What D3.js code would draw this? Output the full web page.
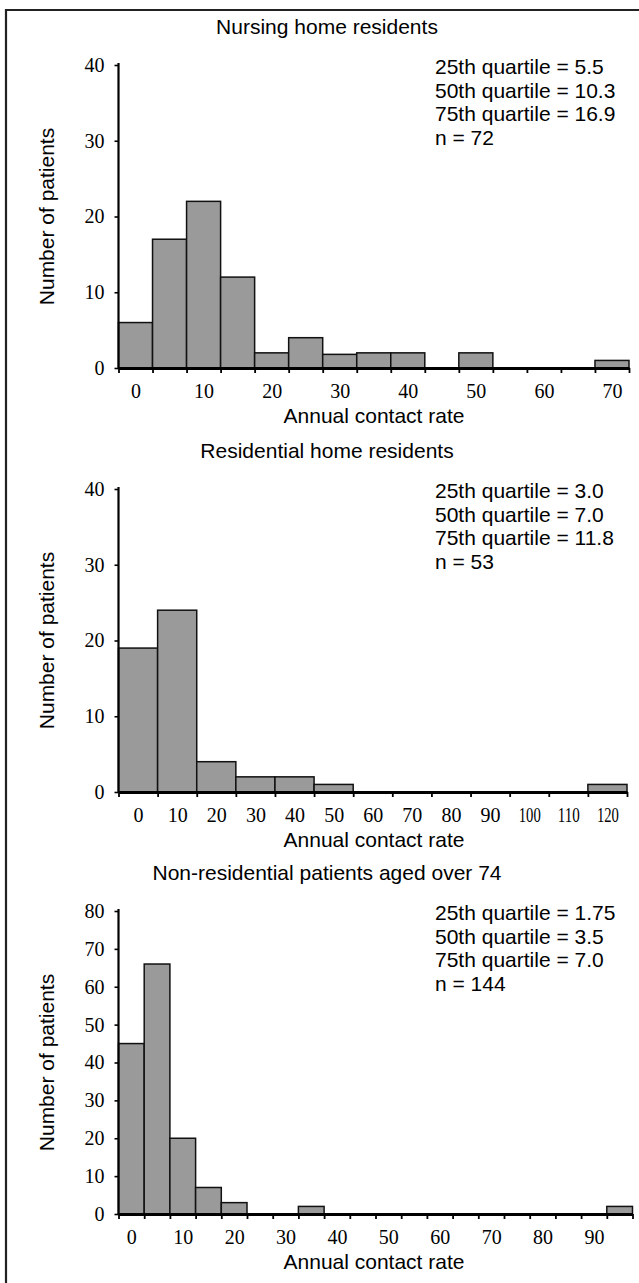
<!DOCTYPE html>
<html><head><meta charset="utf-8">
<script src="https://cdn.jsdelivr.net/npm/d3@7"></script>
<style>body{margin:0;background:#fff}</style>
</head><body>
<svg id="chart" width="639" height="1283"></svg>
<script>
// ---------- data ----------
const panelTitles = ["Nursing home residents", "Residential home residents", "Non-residential patients aged over 74"];
const xAxisTitle = "Annual contact rate";
const yAxisTitle = "Number of patients";

// counts per bin (bins centred on 0, binWidth, 2*binWidth, ...)
const nursingCounts = [6, 17, 22, 12, 2, 4, 1.8, 2, 2, 0, 2, 0, 0, 0, 1];
const residentialCounts = [19, 24, 4, 2, 2, 1, 0, 0, 0, 0, 0, 0, 1];
const nonResidentialCounts = [45, 66, 20, 7, 3, 0, 0, 2, 0, 0, 0, 0, 0, 0, 0, 0, 0, 0, 0, 2];
const binWidths = [5, 10, 5];

const nursingXTicks = [0, 10, 20, 30, 40, 50, 60, 70];
const residentialXTicks = [0, 10, 20, 30, 40, 50, 60, 70, 80, 90, 100, 110, 120];
const nonResidentialXTicks = [0, 10, 20, 30, 40, 50, 60, 70, 80, 90];
const nursingYTicks = [0, 10, 20, 30, 40];
const residentialYTicks = [0, 10, 20, 30, 40];
const nonResidentialYTicks = [0, 10, 20, 30, 40, 50, 60, 70, 80];

const nursingStats = ["25th quartile = 5.5", "50th quartile = 10.3", "75th quartile = 16.9", "n = 72"];
const residentialStats = ["25th quartile = 3.0", "50th quartile = 7.0", "75th quartile = 11.8", "n = 53"];
const nonResidentialStats = ["25th quartile = 1.75", "50th quartile = 3.5", "75th quartile = 7.0", "n = 144"];

// ---------- layout ----------
const panels = [
  {title: panelTitles[0], counts: nursingCounts, binWidth: binWidths[0], xTicks: nursingXTicks, yTicks: nursingYTicks, stats: nursingStats, offset: 0, xEnd: 629},
  {title: panelTitles[1], counts: residentialCounts, binWidth: binWidths[1], xTicks: residentialXTicks, yTicks: residentialYTicks, stats: residentialStats, offset: 424, xEnd: 627},
  {title: panelTitles[2], counts: nonResidentialCounts, binWidth: binWidths[2], xTicks: nonResidentialXTicks, yTicks: nonResidentialYTicks, stats: nonResidentialStats, offset: 846, xEnd: 632.5}
];

const SANS = "'Liberation Sans', Arial, Helvetica, sans-serif";
const SERIF = "'Liberation Serif', 'Times New Roman', Times, serif";

const svg = d3.select("#chart");
svg.append("rect").attr("width", 639).attr("height", 1283).attr("fill", "#fff");
// frame (top and left edges visible)
svg.append("path").attr("d", "M6,1283 V10 H639").attr("fill", "none")
  .attr("stroke", "#222").attr("stroke-width", 2.2);

const X0 = 118.5, Y0 = 368, Y1 = 65;

panels.forEach(p => {
  const g = svg.append("g").attr("transform", `translate(0,${p.offset})`);
  const start = -p.binWidth / 2;
  const end = start + p.counts.length * p.binWidth;
  const x = d3.scaleLinear().domain([start, end]).range([X0, p.xEnd]);
  const y = d3.scaleLinear().domain([0, d3.max(p.yTicks)]).range([Y0, Y1]);

  // title
  g.append("text").attr("x", 327).attr("y", 33.5).attr("text-anchor", "middle")
    .attr("font-family", SANS).attr("font-size", 21).text(p.title);

  // bars
  g.selectAll("rect.bar").data(p.counts).join("rect").attr("class", "bar")
    .attr("x", (d, j) => x(start + j * p.binWidth))
    .attr("width", (d, j) => x(start + (j + 1) * p.binWidth) - x(start + j * p.binWidth))
    .attr("y", d => y(d))
    .attr("height", d => y(0) - y(d))
    .attr("fill", "#9a9a9a").attr("stroke", "#111").attr("stroke-width", 1.5);

  // y axis
  const yAxis = g.append("g").attr("transform", `translate(${X0},0)`)
    .call(d3.axisLeft(y).tickValues(p.yTicks).tickSize(4).tickSizeOuter(0).tickPadding(10).tickFormat(d3.format("d")));
  yAxis.select(".domain").attr("stroke", "#000").attr("stroke-width", 2.2)
    .attr("d", `M0,${y(0)}V${Y1 - 2}`);
  yAxis.selectAll(".tick line").attr("stroke", "#000").attr("stroke-width", 1.6);
  yAxis.selectAll("text").attr("font-family", SERIF).attr("font-size", 20).attr("fill", "#000");

  // x axis: ticks at bin edges
  const edges = d3.range(p.counts.length + 1).map(j => start + j * p.binWidth);
  const xAxis = g.append("g").attr("transform", `translate(0,${Y0})`)
    .call(d3.axisBottom(x).tickValues(edges).tickSize(5).tickSizeOuter(0).tickFormat(""));
  xAxis.select(".domain").attr("stroke", "#000").attr("stroke-width", 2.8);
  xAxis.selectAll(".tick line").attr("stroke", "#000").attr("stroke-width", 1.8);

  // x labels at bin centres
  const xLab = g.append("g").attr("transform", `translate(0,${Y0})`)
    .call(d3.axisBottom(x).tickValues(p.xTicks).tickSize(0).tickPadding(16).tickFormat(d3.format("d")));
  xLab.select(".domain").remove();
  xLab.selectAll("text").attr("font-family", SERIF).attr("font-size", 20).attr("fill", "#000")
    .each(function(d) {
      if (String(d).length > 2) d3.select(this).attr("textLength", 22).attr("lengthAdjust", "spacingAndGlyphs");
    });

  // axis titles
  g.append("text").attr("x", 374).attr("y", 423).attr("text-anchor", "middle")
    .attr("font-family", SANS).attr("font-size", 21).text(xAxisTitle);
  g.append("text").attr("transform", `translate(53.5,${(Y0 + Y1) / 2}) rotate(-90)`)
    .attr("text-anchor", "middle").attr("font-family", SANS).attr("font-size", 21).text(yAxisTitle);

  // stats
  g.selectAll("text.stat").data(p.stats).join("text").attr("class", "stat")
    .attr("x", 435).attr("y", (d, j) => 74 + j * 23.6)
    .attr("font-family", SANS).attr("font-size", 21).text(d => d);
});
</script>
</body></html>
